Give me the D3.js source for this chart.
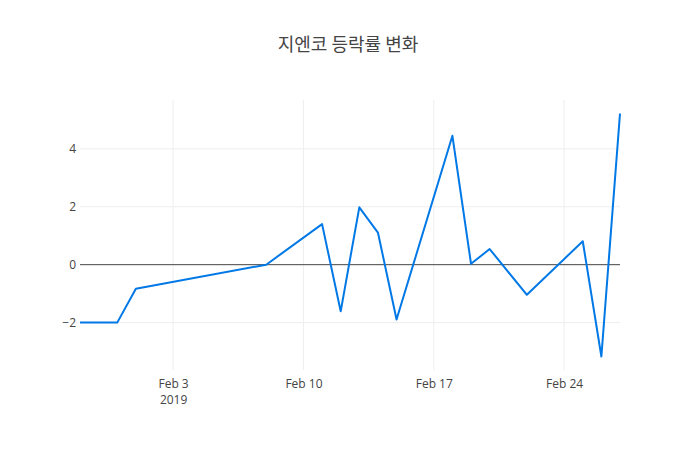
<!DOCTYPE html>
<html>
<head>
<meta charset="utf-8">
<script src="https://cdn.jsdelivr.net/npm/d3@7"></script>
<style>
  body { margin: 0; background: #fff; }
  text { font-family: "Open Sans", "Noto Sans", sans-serif; fill: #444; }
  .title { font-family: "Noto Sans CJK KR", "Open Sans", sans-serif; font-size: 18px; }
  .tick text { font-size: 12px; }
</style>
</head>
<body>
<div id="chart"></div>
<script>
// 지엔코 등락률 (%) by trading day
const dates = ["2019-01-29", "2019-01-31", "2019-02-01", "2019-02-08", "2019-02-11",
  "2019-02-12", "2019-02-13", "2019-02-14", "2019-02-15", "2019-02-18", "2019-02-19",
  "2019-02-20", "2019-02-22", "2019-02-25", "2019-02-26", "2019-02-27"];
const rates = [-2.0, -2.0, -0.83, 0.0, 1.40, -1.61, 1.98, 1.11, -1.89, 4.45, 0.03,
  0.54, -1.04, 0.81, -3.17, 5.22];
const yTicks = [-2, 0, 2, 4];
const titleText = "지엔코 등락률 변화";

let margin = {top: 100, right: 80, bottom: 80, left: 80};
let width = 700 - margin.left - margin.right;
let height = 450 - margin.top - margin.bottom;

const parse = d3.utcParse("%Y-%m-%d");
const data = dates.map((d, i) => ({date: parse(d), value: rates[i]}));

let svg = d3.select("#chart").append("svg")
    .attr("width", 700)
    .attr("height", 450);

svg.append("text")
  .attr("class", "title")
  .attr("x", 348)
  .attr("y", 51)
  .attr("text-anchor", "middle")
  .text(titleText);

let g = svg.append("g")
  .attr("transform", "translate(" + margin.left + "," + margin.top + ")");

// x axis: dates, no padding like plotly lines
let x = d3.scaleUtc()
  .domain(d3.extent(data, d => d.date))
  .range([0, width]);

// y axis: pad 5% of pixel length on each side
let ext = d3.extent(rates);
let pad = (ext[1] - ext[0]) * 0.05 / 0.9;
let y = d3.scaleLinear()
  .domain([ext[0] - pad, ext[1] + pad])
  .range([height, 0]);

const xTicks = d3.utcSunday.range(x.domain()[0], x.domain()[1]);

// grid lines
g.append("g").selectAll("line")
  .data(xTicks).enter().append("line")
  .attr("x1", d => x(d)).attr("x2", d => x(d))
  .attr("y1", 0).attr("y2", height)
  .attr("stroke", "#eee").attr("stroke-width", 1);

g.append("g").selectAll("line")
  .data(yTicks.filter(v => v !== 0)).enter().append("line")
  .attr("x1", 0).attr("x2", width)
  .attr("y1", d => y(d)).attr("y2", d => y(d))
  .attr("stroke", "#eee").attr("stroke-width", 1);

// zero line
g.append("line")
  .attr("x1", 0).attr("x2", width)
  .attr("y1", y(0)).attr("y2", y(0))
  .attr("stroke", "#444").attr("stroke-width", 1);

// x tick labels
let xAxis = g.append("g")
  .attr("transform", "translate(0," + height + ")")
  .call(d3.axisBottom(x).tickValues(xTicks).tickSize(0).tickPadding(9)
    .tickFormat(d3.utcFormat("%b %-d")));
xAxis.select(".domain").remove();
xAxis.selectAll(".tick text").attr("fill", "#444");
xAxis.selectAll(".tick").filter((d, i) => i === 0)
  .append("text")
  .attr("y", 25)
  .attr("dy", "0.71em")
  .attr("fill", "#444")
  .attr("text-anchor", "middle")
  .text(d => d3.utcFormat("%Y")(d));

// y tick labels
let yAxis = g.append("g")
  .call(d3.axisLeft(y).tickValues(yTicks).tickSize(0).tickPadding(4)
    .tickFormat(d => d < 0 ? "\u2212" + Math.abs(d) : d));
yAxis.select(".domain").remove();
yAxis.selectAll(".tick text").attr("fill", "#444");

// line
let line = d3.line()
  .x(d => x(d.date))
  .y(d => y(d.value));

g.append("path")
  .datum(data)
  .attr("fill", "none")
  .attr("stroke", "rgb(0,120,230)")
  .attr("stroke-width", 2)
  .attr("stroke-linejoin", "round")
  .attr("d", line);
</script>
</body>
</html>
